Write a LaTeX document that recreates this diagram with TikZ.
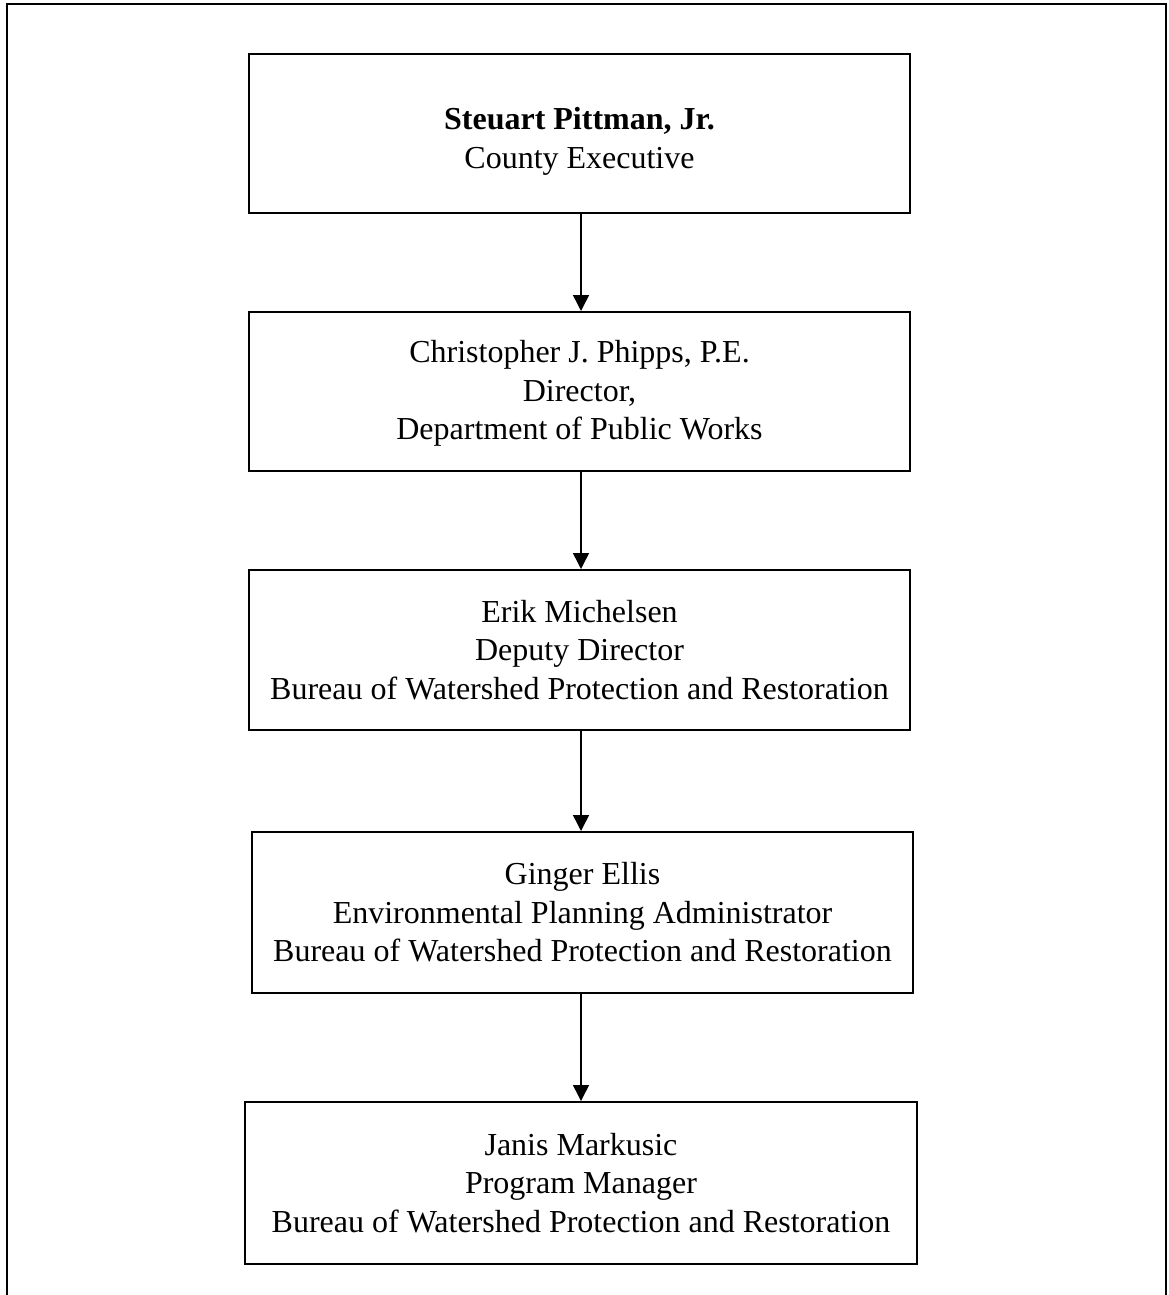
\documentclass[tikz,border=0pt]{standalone}
\usepackage{fontspec}
\setmainfont{Liberation Serif}
\usetikzlibrary{arrows.meta}
\begin{document}
\begin{tikzpicture}[x=1pt,y=-1pt,
  orgbox/.style={draw=black,line width=2pt,align=center,inner sep=0pt,
    font=\fontsize{32}{38.5}\selectfont,text=black},
  orgtext/.style={align=center,inner sep=0pt,
    font=\fontsize{32}{38.5}\selectfont,text=black},
  arr/.style={line width=1.5pt,-{Triangle[width=16pt,length=16pt]}}]
\useasboundingbox (0,0) rectangle (1168,1295);
\draw[line width=2pt] (7,1296) -- (7,4) -- (1166,4) -- (1166,1296);
\node[orgbox,minimum width=661pt,minimum height=159pt] (b1) at (579.5,133.5) {};
\node[orgtext] (b1t) at (579.5,141.5)
  {\textbf{Steuart Pittman, Jr.}\\County Executive};
\node[orgbox,minimum width=661pt,minimum height=159pt] (b2) at (579.5,391.5) {};
\node[orgtext] (b2t) at (579.5,393.5)
  {Christopher J. Phipps, P.E.\\Director,\\Department of Public Works};
\node[orgbox,minimum width=661pt,minimum height=160pt] (b3) at (579.5,650)
  {Erik Michelsen\\Deputy Director\\Bureau of Watershed Protection and Restoration};
\node[orgbox,minimum width=661pt,minimum height=161pt] (b4) at (582.5,912.5)
  {Ginger Ellis\\Environmental Planning Administrator\\Bureau of Watershed Protection and Restoration};
\node[orgbox,minimum width=672pt,minimum height=162pt] (b5) at (581,1183)
  {Janis Markusic\\Program Manager\\Bureau of Watershed Protection and Restoration};
\coordinate (ax) at (581,0);
\draw[arr] (b1.south -| ax) -- (b2.north -| ax);
\draw[arr] (b2.south -| ax) -- (b3.north -| ax);
\draw[arr] (b3.south -| ax) -- (b4.north -| ax);
\draw[arr] (b4.south -| ax) -- (b5.north -| ax);
\end{tikzpicture}
\end{document}
